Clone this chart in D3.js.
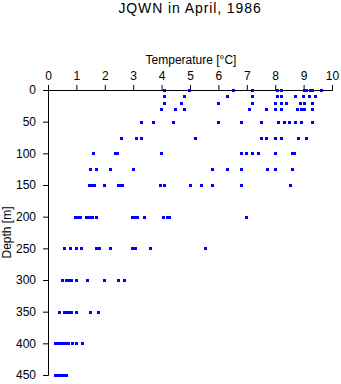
<!DOCTYPE html>
<html>
<head>
<meta charset="utf-8">
<script src="https://cdn.jsdelivr.net/npm/d3@7"></script>
<style>
  html, body { margin: 0; padding: 0; background: #fff; }
  svg { display: block; }
  text { font-family: "Liberation Sans", Arial, sans-serif; fill: #000; }
</style>
</head>
<body>
<svg id="chart" width="341" height="384"></svg>
<script>
// Sampling depths (m) and the temperatures (°C) measured at each of them
const depthLevels = [0, 10, 20, 30, 50, 75, 100, 125, 150, 200, 250, 300, 350, 400, 450];
const tempsAtDepth = [
  [4.08, 4.98, 6.50, 7.19, 8.08, 8.19, 9.00, 9.10, 9.22, 9.31, 9.60],
  [4.08, 4.80, 6.29, 7.19, 8.08, 8.20, 8.71, 8.99, 9.19, 9.40],
  [4.08, 4.69, 5.99, 7.19, 7.99, 8.19, 8.39, 8.88, 9.00, 9.31],
  [3.99, 4.48, 4.80, 7.09, 7.69, 7.99, 8.19, 8.78, 8.90, 9.00, 9.31],
  [3.29, 3.69, 4.39, 5.99, 6.80, 7.49, 8.09, 8.30, 8.50, 8.70, 8.90, 9.31],
  [2.58, 3.09, 3.29, 5.19, 7.51, 7.69, 7.99, 8.19, 8.80, 9.10],
  [1.60, 2.35, 2.42, 3.98, 6.81, 6.98, 7.19, 7.41, 8.00, 8.58, 8.66],
  [1.49, 1.68, 2.19, 2.98, 5.79, 6.29, 6.81, 7.70, 8.00, 8.59],
  [1.45, 1.55, 1.62, 1.98, 2.45, 2.55, 2.60, 3.94, 4.10, 4.99, 5.40, 5.79, 6.81, 8.51],
  [0.95, 1.05, 1.13, 1.33, 1.45, 1.54, 1.69, 2.95, 3.05, 3.12, 3.38, 4.06, 4.20, 4.26, 6.97],
  [0.57, 0.79, 0.99, 1.17, 1.68, 1.80, 2.19, 2.95, 3.05, 3.60, 5.53],
  [0.49, 0.65, 0.72, 0.80, 0.99, 1.38, 1.98, 2.48, 2.69],
  [0.39, 0.56, 0.66, 0.74, 0.81, 1.00, 1.49, 1.77],
  [0.26, 0.35, 0.45, 0.55, 0.65, 0.72, 0.86, 1.00, 1.18],
  [0.26, 0.36, 0.46, 0.56, 0.62]
];
const tempTicks = d3.range(0, 11, 1);
const depthTicks = d3.range(0, 451, 50);

const samples = depthLevels.flatMap((d, i) => tempsAtDepth[i].map(t => ({ depth: d, temp: t })));

const svg = d3.select("#chart");
const x = d3.scaleLinear().domain([0, 10]).range([48, 332]);
const y = d3.scaleLinear().domain([0, 450]).range([90, 375]);

// Title
svg.append("text")
  .attr("x", 190).attr("y", 13)
  .attr("text-anchor", "middle")
  .style("font-size", "14px")
  .style("letter-spacing", "0.9px")
  .text("JQWN in April, 1986");

// Temperature axis along the top
const xAxis = svg.append("g")
  .attr("transform", `translate(0,${y(0)})`)
  .call(d3.axisTop(x).tickValues(tempTicks).tickFormat(d3.format("d")).tickSizeOuter(0).tickSize(5).tickPadding(5));
xAxis.select(".domain").attr("stroke", "#000").attr("stroke-width", 1);
xAxis.selectAll(".tick line").attr("stroke", "#000");
xAxis.selectAll(".tick text").style("font-size", "12px").attr("font-family", null);

svg.append("text")
  .attr("x", 191).attr("y", 64)
  .attr("text-anchor", "middle")
  .style("font-size", "12px")
  .text("Temperature [\u00B0C]");

// Depth axis along the left
const yAxis = svg.append("g")
  .attr("transform", `translate(${x(0)},0)`)
  .call(d3.axisLeft(y).tickValues(depthTicks).tickSizeOuter(0).tickSize(5).tickPadding(7));
yAxis.select(".domain").attr("stroke", "#000");
yAxis.selectAll(".tick line").attr("stroke", "#000");
yAxis.selectAll(".tick text").style("font-size", "12px").attr("font-family", null);

svg.append("text")
  .attr("transform", `translate(11,${(y(0) + y(450)) / 2}) rotate(-90)`)
  .attr("text-anchor", "middle")
  .style("font-size", "12px")
  .text("Depth [m]");

// Measurements
svg.append("g")
  .selectAll("rect")
  .data(samples)
  .join("rect")
  .attr("x", d => Math.round(x(d.temp)) - 1)
  .attr("y", d => Math.round(y(d.depth)) - 1)
  .attr("width", 3)
  .attr("height", 3)
  .attr("fill", "#0000ff");
</script>
</body>
</html>
